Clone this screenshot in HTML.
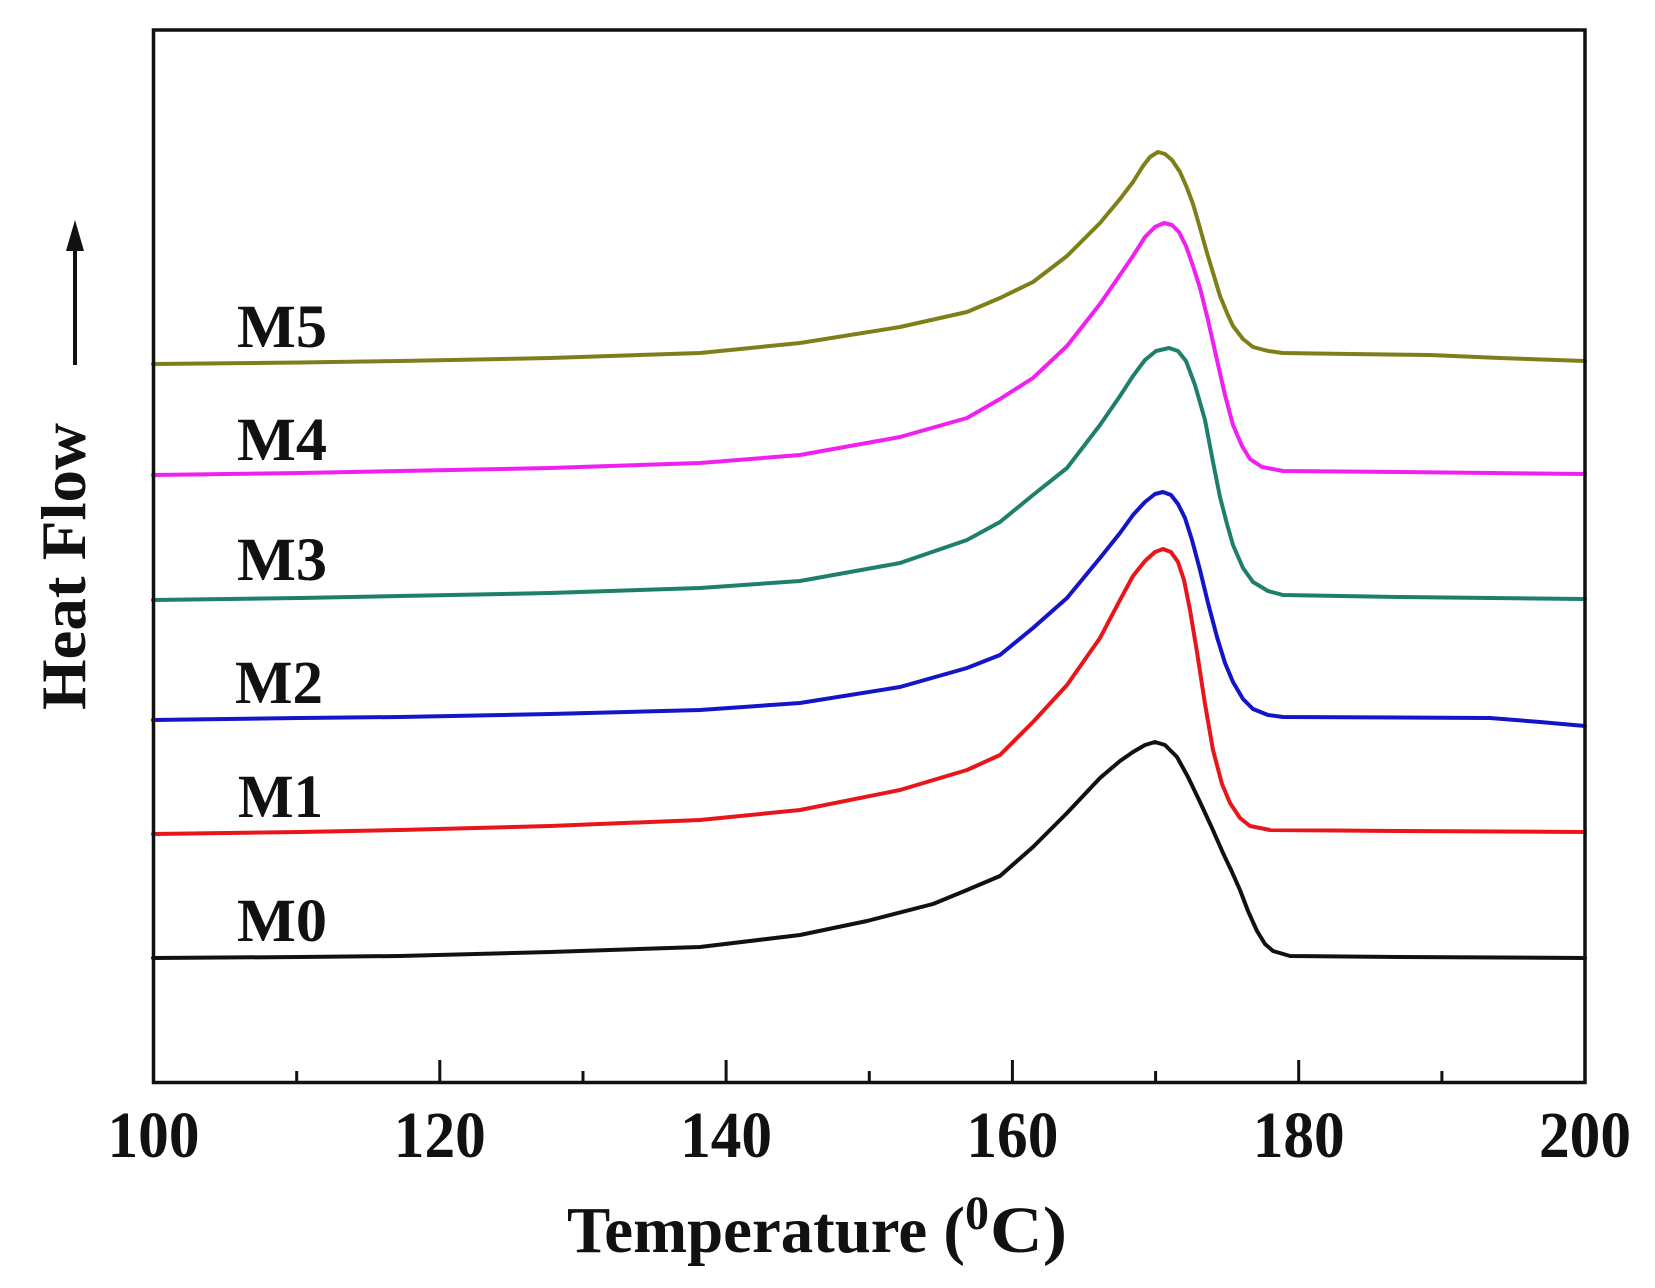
<!DOCTYPE html>
<html>
<head>
<meta charset="utf-8">
<style>
  html, body { margin:0; padding:0; background:#ffffff; }
  svg { display:block; }
  text { font-family: "Liberation Serif", "Times New Roman", serif; font-weight: bold; fill:#111; }
</style>
</head>
<body>
<svg width="1655" height="1288" viewBox="0 0 1655 1288" xmlns="http://www.w3.org/2000/svg">
  <rect x="0" y="0" width="1655" height="1288" fill="#ffffff"/>

  <!-- series -->
  <g fill="none" stroke-width="4" stroke-linejoin="round" stroke-linecap="round">
    <polyline stroke="#7f7f1a" points="153,364 300,362.5 400,361 550,358 700,353 800,343 900,327 967,312 1000,298 1033,282 1067,256 1100,223 1120,199 1133,182 1143,166 1150,157 1158,152 1165,154 1172,160 1180,172 1187,188 1193,204 1200,228 1207,253 1214,276 1220,296 1227,313 1233,326 1243,339 1253,347 1268,351 1283,353 1350,354 1430,355 1500,358 1585,361"/>
    <polyline stroke="#f020f0" points="153,475 300,473 400,471 550,468 700,463 800,455 900,437 967,418 1000,399 1033,378 1067,346 1100,304 1120,275 1133,256 1145,237 1155,227 1164,223 1172,225 1179,232 1186,246 1193,266 1200,288 1208,320 1217,360 1225,395 1233,425 1242,446 1250,459 1262,467 1283,471 1400,472 1585,474"/>
    <polyline stroke="#1e7f6a" points="153,600 300,598 400,596 550,593 700,588 800,581 900,563 967,540 1000,522 1033,495 1067,468 1100,425 1120,396 1133,376 1145,360 1156,351 1169,348 1178,351 1186,361 1195,385 1205,420 1213,462 1220,497 1227,524 1233,545 1243,568 1253,582 1268,591 1283,595 1400,597 1585,599"/>
    <polyline stroke="#1414c8" points="153,720 300,718 400,717 550,714 700,710 800,703 900,687 967,668 1000,655 1033,628 1067,598 1100,558 1120,533 1133,515 1145,502 1155,494 1163,492 1171,495 1178,504 1185,518 1192,540 1200,570 1208,603 1217,637 1225,663 1233,682 1243,699 1253,709 1268,715 1283,717 1490,718 1540,722 1585,726"/>
    <polyline stroke="#e8151b" points="153,834 300,832 400,830 550,826 700,820 800,810 900,790 967,770 1000,755 1033,722 1067,685 1100,638 1120,600 1133,576 1145,561 1155,552 1163,549 1171,552 1178,562 1184,580 1190,610 1197,652 1205,704 1213,750 1222,784 1230,803 1240,818 1250,826 1270,830 1400,831 1585,832"/>
    <polyline stroke="#111111" points="153,958 300,957 400,956 550,952 700,947 800,935 867,921 933,904 967,890 1000,876 1033,847 1067,813 1100,778 1120,761 1133,752 1145,745 1155,742 1165,745 1177,757 1188,777 1200,802 1212,828 1223,853 1232,872 1240,890 1248,911 1257,931 1265,944 1273,951 1290,956 1400,957 1585,958"/>
  </g>

  <!-- axes frame -->
  <rect x="153.5" y="30" width="1431.5" height="1052.5" fill="none" stroke="#111" stroke-width="3.5"/>

  <!-- ticks -->
  <g stroke="#111" stroke-width="3">
    <line x1="439.8" y1="1082" x2="439.8" y2="1060"/>
    <line x1="726.1" y1="1082" x2="726.1" y2="1060"/>
    <line x1="1012.4" y1="1082" x2="1012.4" y2="1060"/>
    <line x1="1298.7" y1="1082" x2="1298.7" y2="1060"/>
    <line x1="296.7" y1="1082" x2="296.7" y2="1071"/>
    <line x1="583" y1="1082" x2="583" y2="1071"/>
    <line x1="869.3" y1="1082" x2="869.3" y2="1071"/>
    <line x1="1155.6" y1="1082" x2="1155.6" y2="1071"/>
    <line x1="1441.9" y1="1082" x2="1441.9" y2="1071"/>
  </g>

  <!-- tick labels -->
  <g font-size="66" text-anchor="middle">
    <text x="153.5" y="1157" textLength="92" lengthAdjust="spacingAndGlyphs">100</text>
    <text x="439.8" y="1157" textLength="92" lengthAdjust="spacingAndGlyphs">120</text>
    <text x="726.1" y="1157" textLength="92" lengthAdjust="spacingAndGlyphs">140</text>
    <text x="1012.4" y="1157" textLength="92" lengthAdjust="spacingAndGlyphs">160</text>
    <text x="1298.7" y="1157" textLength="92" lengthAdjust="spacingAndGlyphs">180</text>
    <text x="1585" y="1157" textLength="92" lengthAdjust="spacingAndGlyphs">200</text>
  </g>

  <!-- x axis title -->
  <text x="567" y="1252" font-size="66" textLength="398" lengthAdjust="spacingAndGlyphs">Temperature (</text>
  <text x="965" y="1229" font-size="48" textLength="24" lengthAdjust="spacingAndGlyphs">0</text>
  <text x="990" y="1252" font-size="66" textLength="77" lengthAdjust="spacingAndGlyphs">C)</text>

  <!-- y axis label -->
  <text transform="translate(85,566.5) rotate(-90)" x="0" y="0" font-size="64" text-anchor="middle" textLength="287" lengthAdjust="spacingAndGlyphs">Heat Flow</text>

  <!-- arrow -->
  <line x1="75" y1="365" x2="75" y2="245" stroke="#111" stroke-width="4"/>
  <polygon points="75,220 66,251 84,251" fill="#111"/>

  <!-- series labels -->
  <g font-size="61">
    <text x="237" y="347" textLength="90" lengthAdjust="spacingAndGlyphs">M5</text>
    <text x="237" y="460" textLength="90" lengthAdjust="spacingAndGlyphs">M4</text>
    <text x="237" y="580" textLength="90" lengthAdjust="spacingAndGlyphs">M3</text>
    <text x="235" y="703" textLength="88" lengthAdjust="spacingAndGlyphs">M2</text>
    <text x="238" y="817" textLength="85" lengthAdjust="spacingAndGlyphs">M1</text>
    <text x="237" y="941" textLength="90" lengthAdjust="spacingAndGlyphs">M0</text>
  </g>
</svg>
</body>
</html>
